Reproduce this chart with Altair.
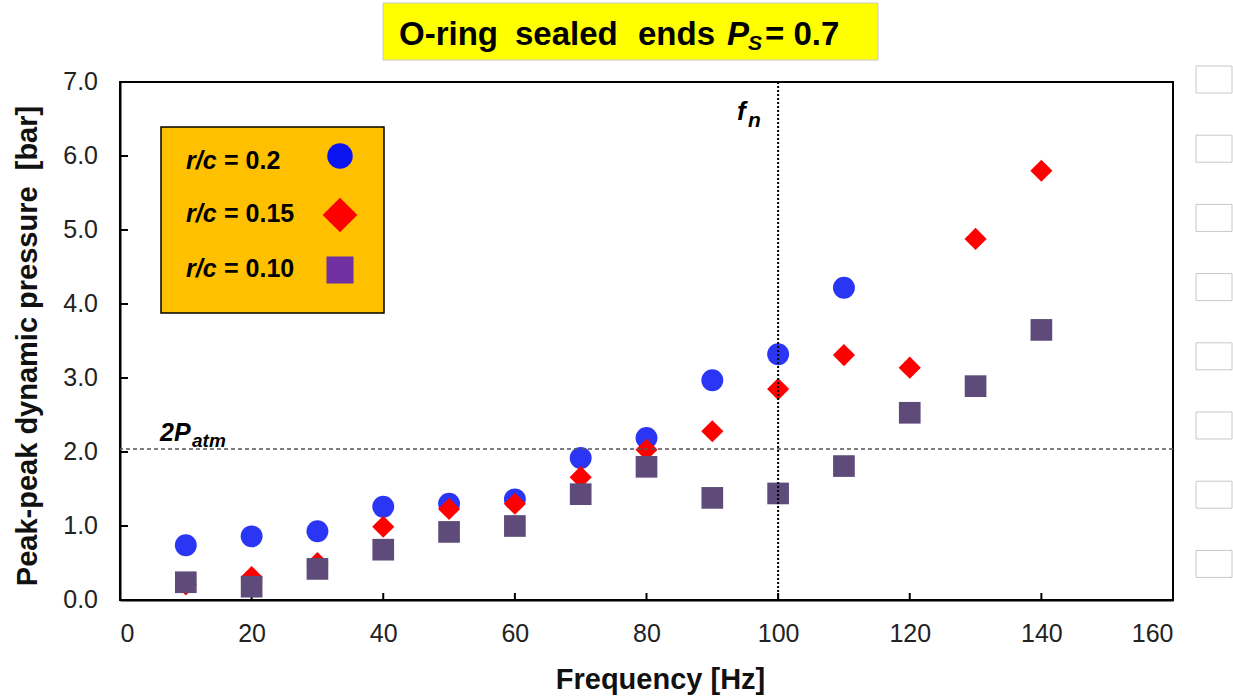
import altair as alt
import pandas as pd

# ---------------- data ----------------
freq_rc020 = [10, 20, 30, 40, 50, 60, 70, 80, 90, 100, 110]
p_rc020 = [0.74, 0.86, 0.93, 1.26, 1.30, 1.36, 1.92, 2.19, 2.97, 3.32, 4.22]

freq_rc015 = [10, 20, 30, 40, 50, 60, 70, 80, 90, 100, 110, 120, 130, 140]
p_rc015 = [0.21, 0.31, 0.50, 0.99, 1.23, 1.30, 1.66, 2.03, 2.28, 2.85, 3.31, 3.14, 4.88, 5.80]

freq_rc010 = [10, 20, 30, 40, 50, 60, 70, 80, 90, 100, 110, 120, 130, 140]
p_rc010 = [0.24, 0.18, 0.42, 0.68, 0.92, 1.00, 1.43, 1.80, 1.38, 1.44, 1.81, 2.53, 2.89, 3.65]

x_ticks = [0, 20, 40, 60, 80, 100, 120, 140, 160]
y_ticks = [0, 1, 2, 3, 4, 5, 6, 7]

f_natural = [100]        # vertical dotted line  (f_n)
two_p_atm = [2.04]       # horizontal dashed line (2 P_atm)

FONT = "Liberation Sans"
W, H = 1053, 518

df020 = pd.DataFrame({"f": freq_rc020, "p": p_rc020})
df015 = pd.DataFrame({"f": freq_rc015, "p": p_rc015})
df010 = pd.DataFrame({"f": freq_rc010, "p": p_rc010})


def X(field="f:Q"):
    return alt.X(
        field,
        scale=alt.Scale(domain=[0, 160], nice=False, zero=False),
        axis=alt.Axis(
            values=x_ticks, title="Frequency [Hz]", grid=False, ticks=False,
            labelFontSize=25, labelFont=FONT, labelColor="#222222", labelPadding=21,
            domainColor="black", domainWidth=2,
            titleFont=FONT, titleFontSize=29, titleFontWeight="bold", titleColor="#111111",
            titleX=540, titleY=88, titleBaseline="alphabetic", titleAlign="center",
        ),
    )


def Y(field="p:Q"):
    return alt.Y(
        field,
        scale=alt.Scale(domain=[0, 7], nice=False, zero=False),
        axis=alt.Axis(
            values=y_ticks, title=None, grid=False, ticks=False, labels=False,
            domainColor="black", domainWidth=2,
        ),
    )


layers = []

# inward tick marks
layers.append(
    alt.Chart(pd.DataFrame({"p": y_ticks})).mark_rule(color="black", strokeWidth=2)
    .encode(y=Y(), x=alt.value(0), x2=alt.value(8))
)
layers.append(
    alt.Chart(pd.DataFrame({"f": x_ticks})).mark_rule(color="black", strokeWidth=2)
    .encode(x=X(), y=alt.value(H), y2=alt.value(H - 7))
)
# y tick labels (placed through the y scale)
layers.append(
    alt.Chart(pd.DataFrame({"p": y_ticks})).mark_text(
        font=FONT, fontSize=25, color="#222222", align="right", baseline="middle"
    ).encode(y=Y(), x=alt.value(-22), text=alt.Text("p:Q", format=".1f"))
)

# data series
layers.append(
    alt.Chart(df020).mark_point(shape="circle", filled=True, size=480, color="#2B36F5", opacity=1)
    .encode(x=X(), y=Y())
)
layers.append(
    alt.Chart(df015).mark_point(shape="diamond", filled=True, size=490, color="#FF0000", opacity=1)
    .encode(x=X(), y=Y())
)
layers.append(
    alt.Chart(df010).mark_point(shape="square", filled=True, size=470, color="#5E4B7A", opacity=1)
    .encode(x=X(), y=Y())
)

# reference lines
layers.append(
    alt.Chart(pd.DataFrame({"p": two_p_atm})).mark_rule(color="#555555", strokeWidth=1.5, strokeDash=[4, 3])
    .encode(y=Y())
)
layers.append(
    alt.Chart(pd.DataFrame({"f": f_natural})).mark_rule(color="black", strokeWidth=2, strokeDash=[2, 2])
    .encode(x=X())
)


def txt(s, x, y, size, weight="bold", style="normal", align="left", color="black",
        angle=0, baseline="alphabetic"):
    return alt.Chart(pd.DataFrame({"a": [0]})).mark_text(
        text=s, font=FONT, fontSize=size, fontWeight=weight, fontStyle=style,
        align=align, baseline=baseline, color=color, angle=angle,
    ).encode(x=alt.value(x), y=alt.value(y))


def box(x, x2, y, y2, fill, stroke, sw):
    return alt.Chart(pd.DataFrame({"a": [0]})).mark_rect(
        fill=fill, stroke=stroke, strokeWidth=sw
    ).encode(x=alt.value(x), x2=alt.value(x2), y=alt.value(y), y2=alt.value(y2))


def sym(shape, x, y, size, color):
    return alt.Chart(pd.DataFrame({"a": [0]})).mark_point(
        shape=shape, filled=True, size=size, color=color, opacity=1
    ).encode(x=alt.value(x), y=alt.value(y))


# y axis title (drawn as text so it can be placed exactly)
layers.append(txt("Peak-peak dynamic pressure\u00a0\u00a0[bar]", -92, 264, 29,
                  align="center", angle=270, baseline="middle", color="#111111"))

# annotations
layers.append(txt("2P", 40, 359, 25, style="italic"))
layers.append(txt("atm", 72, 365, 19, style="italic"))
layers.append(txt("f", 617, 38, 26, style="italic"))
layers.append(txt("n", 628, 45, 21, style="italic"))

# legend box
layers.append(box(41, 264, 45, 231, "#FFC000", "black", 1.5))
legend_rows = [("= 0.2", 87, "circle", 74, 650, "#0A14F0"),
               ("= 0.15", 140, "diamond", 133, 1200, "#FF0000"),
               ("= 0.10", 195, "square", 188, 730, "#7030A0")]
for label, base, shp, sy, ssz, scol in legend_rows:
    layers.append(txt("r/c", 66, base, 25, style="italic"))
    layers.append(txt(label, 104, base, 25))
    layers.append(sym(shp, 220, sy, ssz, scol))

# title box
layers.append(box(263, 758, -79, -22, "#FFFF00", "#C8C8C8", 1))
layers.append(txt("O-ring", 279, -37, 33))
layers.append(txt("sealed", 395, -37, 33))
layers.append(txt("ends", 518, -37, 33))
layers.append(txt("P", 607, -37, 33, style="italic"))
layers.append(txt("S", 628, -32, 21, style="italic"))
layers.append(txt("= 0.7", 645, -37, 33))

# empty boxes on the right edge
for i in range(8):
    top = -16 + i * 69.2
    layers.append(box(1076, 1112, top, top + 27, "white", "#C8C8C8", 1))

chart = alt.layer(*layers).properties(
    width=W, height=H,
    autosize=alt.AutoSizeParams(type="none"),
    padding={"left": 120, "top": 82, "right": 60, "bottom": 98},
    background="white",
).configure_view(stroke="black", strokeWidth=2)

chart.save("out.html", embed_options={"renderer": "svg", "actions": False})
